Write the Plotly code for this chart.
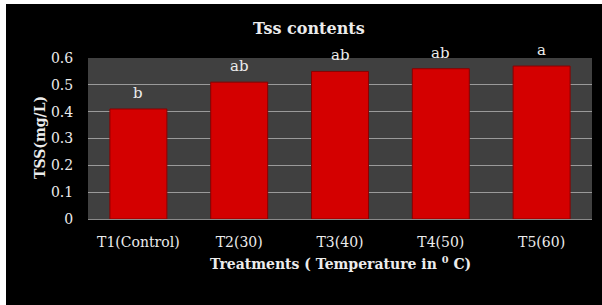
import plotly.graph_objects as go

categories = ["T1(Control)", "T2(30)", "T3(40)", "T4(50)", "T5(60)"]
tss_values = [0.41, 0.51, 0.55, 0.56, 0.57]
letters = ["b", "ab", "ab", "ab", "a"]
y_ticks = [0, 0.1, 0.2, 0.3, 0.4, 0.5, 0.6]

SERIF = "DejaVu Serif, Liberation Serif, serif"
TXT = "#ececec"

fig = go.Figure()
fig.add_trace(go.Bar(
    x=categories, y=tss_values,
    width=0.565,
    marker=dict(color="#d40000", line=dict(color="#8a0000", width=1)),
    hoverinfo="skip",
))

for c, v, l in zip(categories, tss_values, letters):
    fig.add_annotation(x=c, y=v, text=l, showarrow=False, yanchor="bottom",
                       yshift=5, font=dict(family=SERIF, size=15, color=TXT))

fig.add_annotation(xref="paper", yref="paper", x=0.4385, y=1.186,
                   text="<b>Tss contents</b>", showarrow=False, xanchor="center", yanchor="middle",
                   font=dict(family=SERIF, size=16, color=TXT))
fig.add_annotation(xref="paper", yref="paper", x=0.5, y=-0.273,
                   text="<b>Treatments ( Temperature in <sup>0</sup> C)</b>", showarrow=False,
                   xanchor="center", yanchor="middle",
                   font=dict(family=SERIF, size=14, color=TXT))
fig.add_annotation(xref="paper", yref="paper", x=-0.0952, y=0.503,
                   text="<b>TSS(mg/L)</b>", showarrow=False, textangle=-90,
                   xanchor="center", yanchor="middle",
                   font=dict(family=SERIF, size=14, color=TXT))

fig.update_layout(
    width=596, height=301,
    margin=dict(l=82, r=10, t=54, b=86),
    paper_bgcolor="black", plot_bgcolor="#404040",
    showlegend=False,
    font=dict(family=SERIF, color=TXT),
)
fig.update_xaxes(
    showgrid=False, showline=True, linecolor="#8a8a8a", linewidth=1,
    ticks="outside", ticklen=10, tickcolor="rgba(0,0,0,0)",
    tickfont=dict(family=SERIF, size=14, color=TXT),
)
fig.update_yaxes(
    range=[0, 0.6], tickvals=y_ticks, ticktext=[f"{t:g}" for t in y_ticks],
    showgrid=True, gridcolor="#9a9a9a", gridwidth=1,
    zeroline=False,
    ticks="outside", ticklen=11, tickcolor="rgba(0,0,0,0)",
    tickfont=dict(family=SERIF, size=14, color=TXT),
)

fig.write_html(
    "out.html",
    post_script="document.body.style.margin='4px 0 0 6px';document.body.style.background='white';document.body.style.overflow='hidden';",
)
